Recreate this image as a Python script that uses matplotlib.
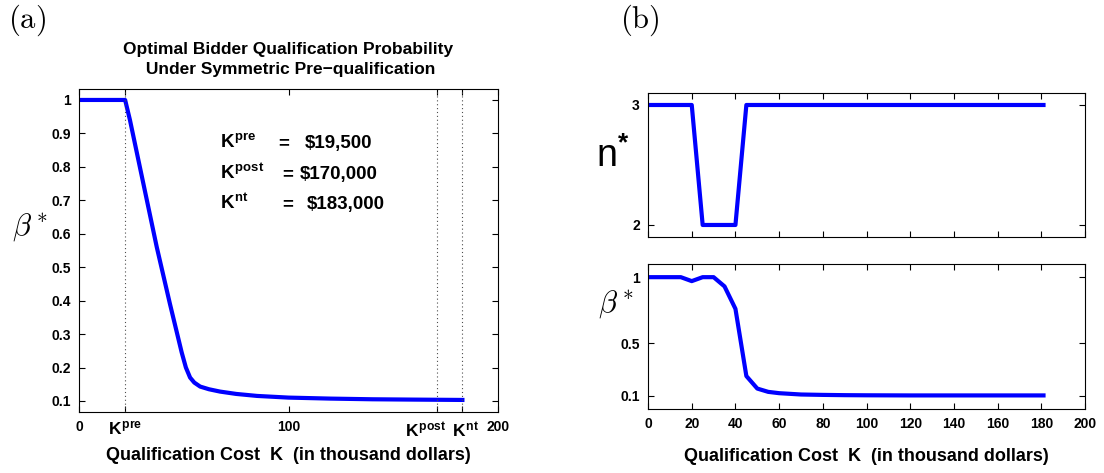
import matplotlib
matplotlib.use("Agg")
import matplotlib.pyplot as plt
import matplotlib.transforms as mtransforms

plt.rcParams['font.family'] = ['Liberation Sans', 'DejaVu Sans']
plt.rcParams['font.weight'] = 'bold'
plt.rcParams['mathtext.fontset'] = 'custom'
plt.rcParams['mathtext.rm'] = 'Liberation Sans:bold'
plt.rcParams['mathtext.it'] = 'Liberation Sans:bold'
plt.rcParams['mathtext.bf'] = 'Liberation Sans:bold'
plt.rcParams['mathtext.sf'] = 'Liberation Sans:weight=normal'

# (a) beta* vs qualification cost K (thousand dollars)
k_a = [0, 22, 24.3, 30.7, 37.1, 43.4, 49, 51, 53, 55, 57.8, 62, 67.3, 75, 85, 100, 120, 140, 160, 183]
beta_a = [1, 1, 0.94, 0.75, 0.56, 0.39, 0.245, 0.2, 0.17, 0.155, 0.143, 0.135, 0.128,
          0.121, 0.115, 0.11, 0.107, 0.105, 0.104, 0.103]
# where the threshold marks are drawn
k_pre, k_post, k_nt = 22, 171, 183
k_labels = [r'$K^{pre}$', r'$K^{post}$', r'$K^{nt}$']
k_values = ['\\$19,500', '\\$170,000', '\\$183,000']

# (b) n* and beta* vs K
k_b = [0, 5, 10, 15, 20, 25, 30, 35, 40, 45, 50, 55, 60, 65, 70, 80, 90, 100, 120, 140, 160, 181]
n_b = [3, 3, 3, 3, 3, 2, 2, 2, 2, 3, 3, 3, 3, 3, 3, 3, 3, 3, 3, 3, 3, 3]
beta_b = [1, 1, 1, 1, 0.97, 1, 1, 0.93, 0.76, 0.25, 0.155, 0.13, 0.12, 0.115, 0.11, 0.107, 0.105,
          0.104, 0.103, 0.103, 0.103, 0.103]

fig = plt.figure(figsize=(11.04, 4.73), dpi=100)
blue = '#0000ff'

# left panel
ax = fig.add_axes([0.0716, 0.129, 0.3795, 0.683])
ax.plot(k_a, beta_a, color=blue, lw=3)
for kv in [k_pre, k_post, k_nt]:
    ax.axvline(kv, ls=(0, (1, 2.5)), color='0.3', lw=0.8)
ax.set_xlim(0, 200)
ax.set_ylim(0.067, 1.033)
ax.set_yticks([0.1, 0.2, 0.3, 0.4, 0.5, 0.6, 0.7, 0.8, 0.9, 1])
ax.set_yticklabels(['0.1', '0.2', '0.3', '0.4', '0.5', '0.6', '0.7', '0.8', '0.9', '1'])
ax.tick_params(direction='in', top=True, right=True, labelsize=10, length=4, pad=6)
ax.set_xticks([0, k_pre, 100, k_post, k_nt, 200])
ax.set_xticklabels(['0', k_labels[0], '100', k_labels[1], k_labels[2], '200'])
xl = ax.get_xticklabels()
for i in [1, 3, 4]:
    xl[i].set_fontsize(12.5)
left_shift = mtransforms.ScaledTranslation(-12 / 100, 0, fig.dpi_scale_trans)
right_shift = mtransforms.ScaledTranslation(3 / 100, 0, fig.dpi_scale_trans)
xl[3].set_transform(xl[3].get_transform() + left_shift)
xl[4].set_transform(xl[4].get_transform() + right_shift)
ax.set_title('Optimal Bidder Qualification Probability\n Under Symmetric Pre\u2212qualification',
             fontsize=12.5, fontweight='bold', pad=11, linespacing=1.35)
ax.set_xlabel('Qualification Cost  K  (in thousand dollars)', fontsize=13, fontweight='bold', labelpad=5)
ax.set_ylabel(r'$\beta^*$', fontsize=22, math_fontfamily='cm', rotation=0, ha='center', va='center')
ax.yaxis.set_label_coords(-0.117, 0.57)

ys = [0.856, 0.763, 0.673]
eq_x = [95.0, 96.9, 96.9]
val_x = [107.9, 105.5, 108.8]
for i in range(3):
    ax.text(67.3, ys[i], k_labels[i], fontsize=13.5, va='baseline')
    ax.text(eq_x[i], ys[i], '=', fontsize=13.5, va='baseline')
    ax.text(val_x[i], ys[i], k_values[i], fontsize=13.5, va='baseline')

# right top panel
ax1 = fig.add_axes([0.587, 0.499, 0.3958, 0.3044])
ax1.plot(k_b, n_b, color=blue, lw=3)
ax1.set_xlim(0, 200)
ax1.set_ylim(1.9, 3.1)
ax1.set_xticks(range(0, 201, 20))
ax1.set_xticklabels([])
ax1.set_yticks([2, 3])
ax1.tick_params(direction='in', top=True, right=True, labelsize=10, length=4, pad=6)
ax1.set_ylabel(r'$\mathsf{n}^{*}$', fontsize=27, rotation=0, ha='center', va='center')
ax1.yaxis.set_label_coords(-0.08, 0.56)

# right bottom panel
ax2 = fig.add_axes([0.587, 0.1353, 0.3958, 0.3066])
ax2.plot(k_b, beta_b, color=blue, lw=3)
ax2.set_xlim(0, 200)
ax2.set_ylim(0, 1.1)
ax2.set_xticks(range(0, 201, 20))
ax2.set_yticks([0.1, 0.5, 1])
ax2.set_yticklabels(['0.1', '0.5', '1'])
ax2.tick_params(direction='in', top=True, right=True, labelsize=10, length=4, pad=6)
ax2.set_xlabel('Qualification Cost  K  (in thousand dollars)', fontsize=13, fontweight='bold',
               labelpad=12)
ax2.set_ylabel(r'$\beta^*$', fontsize=22, math_fontfamily='cm', rotation=0, ha='center', va='center')
ax2.yaxis.set_label_coords(-0.073, 0.72)

for a in [ax, ax1, ax2]:
    for s in a.spines.values():
        s.set_linewidth(0.8)

fig.text(0.007, 0.958, r'$\mathrm{(a)}$', fontsize=22, math_fontfamily='cm', va='center')
fig.text(0.562, 0.958, r'$\mathrm{(b)}$', fontsize=22, math_fontfamily='cm', va='center')

fig.savefig('out.png', dpi=100)
